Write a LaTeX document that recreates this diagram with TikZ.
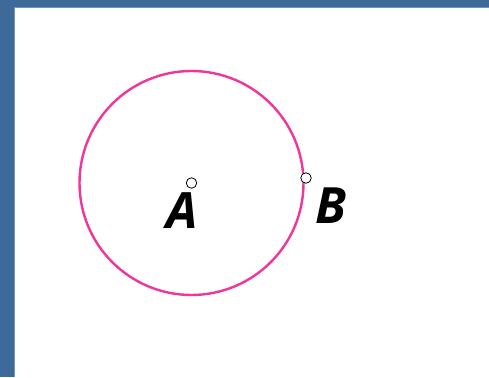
\documentclass[tikz,border=0pt]{standalone}
\usepackage{fontspec}
\setmainfont{Open Sans}
\definecolor{frame}{HTML}{3D6A99}
\definecolor{framelight}{HTML}{6F95BD}
\definecolor{pinkc}{HTML}{F0359B}
\tikzset{
  pt/.style={circle,draw=black,fill=white,line width=0.8pt,minimum size=10.5pt,inner sep=0pt},
  lbl/.style={font=\fontsize{50}{54}\selectfont\bfseries\itshape,inner sep=0pt}
}
\begin{document}
\begin{tikzpicture}[x=1pt,y=1pt]
\useasboundingbox (0,0) rectangle (489,377);
\fill[frame] (0,0) rectangle (489,377);
\fill[white] (15,0) rectangle (489,369);
\draw[framelight,line width=1pt] (14.5,0) -- (14.5,369.5) -- (489,369.5);
\coordinate (Oc) at (191.5,194);
\draw[pinkc,line width=2.4pt] (Oc) circle[radius=112];
\node[pt] (A) at (191.5,194) {};
\node[pt] (B) at (306,199) {};
\node[lbl] (lA) at (182,166) {A};
\node[lbl] (lB) at (331,171) {B};
\end{tikzpicture}
\end{document}
